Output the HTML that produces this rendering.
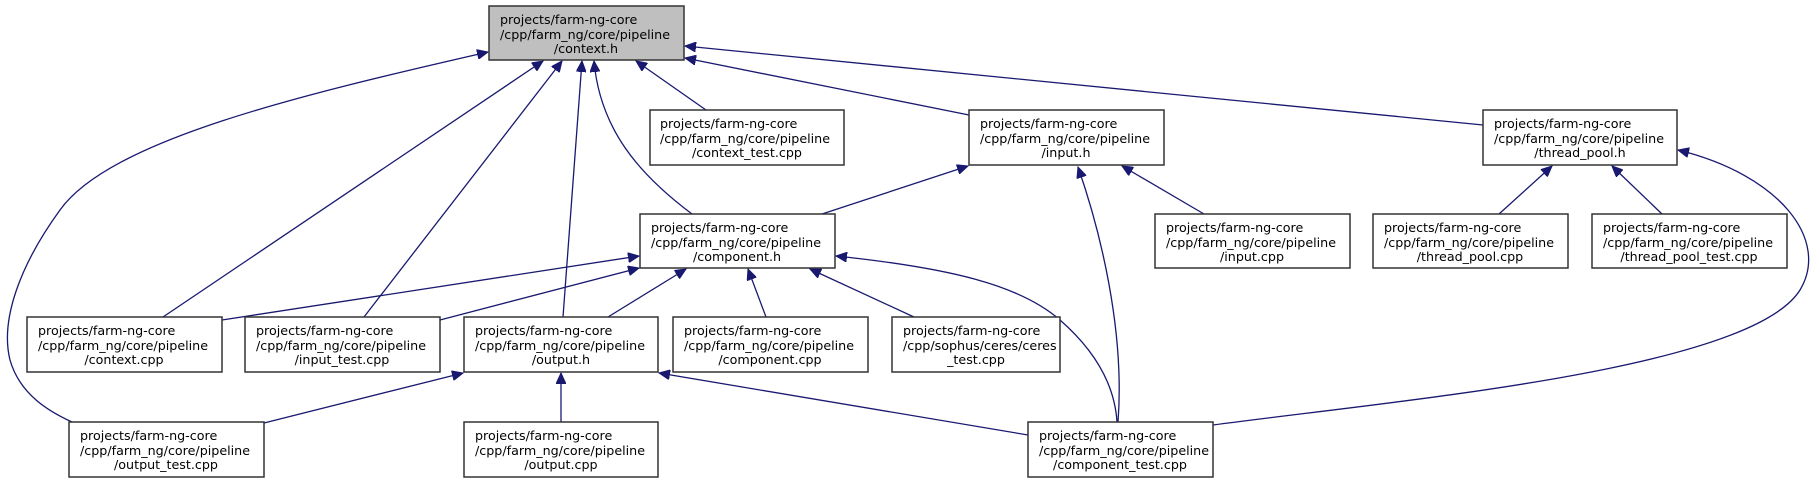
<!DOCTYPE html>
<html><head><meta charset="utf-8"><style>
html,body{margin:0;padding:0;background:#fff;}
svg{display:block;}
text{font-family:"DejaVu Sans","Liberation Sans",sans-serif;font-size:12.7px;fill:#000;}
.b{fill:#fff;stroke:#333;stroke-width:1.5;}
.e{fill:none;stroke:#191970;stroke-width:1.3;marker-start:url(#a);}
</style></head><body>
<svg width="1816" height="483" viewBox="0 0 1816 483" xmlns="http://www.w3.org/2000/svg">
<defs><marker id="a" markerUnits="userSpaceOnUse" markerWidth="12" markerHeight="10" refX="11" refY="5" orient="auto-start-reverse"><path d="M0,0 L11,5 L0,10 z" fill="#191970" stroke="#191970"/></marker></defs>

<path class="e" d="M636,61 L706,110"/>
<path class="e" d="M685,58 L969,115"/>
<path class="e" d="M685,46 L1483,125"/>
<path class="e" d="M594,61 C600,130 640,175 692,214"/>
<path class="e" d="M582,61 L563,317"/>
<path class="e" d="M562,61 L364,317"/>
<path class="e" d="M543,61 L163,317"/>
<path class="e" d="M488,52 C300,95 110,140 60,210 C20,265 0,320 10,360 C20,395 50,412 72,422"/>
<path class="e" d="M968,166 L822,214"/>
<path class="e" d="M1122,166 L1204,214"/>
<path class="e" d="M1078,167 C1100,230 1125,330 1118,422"/>
<path class="e" d="M1552,166 L1499,214"/>
<path class="e" d="M1612,166 L1662,214"/>
<path class="e" d="M1678,150 C1780,175 1830,240 1800,290 C1750,370 1400,400 1213,425"/>
<path class="e" d="M639,256 L222,320"/>
<path class="e" d="M639,268 L440,320"/>
<path class="e" d="M686,269 L608,317"/>
<path class="e" d="M748,269 L766,317"/>
<path class="e" d="M810,269 L914,317"/>
<path class="e" d="M836,256 C950,268 1020,285 1060,320 C1100,355 1115,390 1117,422"/>
<path class="e" d="M463,373 L264,423"/>
<path class="e" d="M561,373 L561,422"/>
<path class="e" d="M659,373 L1028,435"/>

<g>
<rect x="489" y="6" width="195" height="54" fill="#bfbfbf" stroke="#333" stroke-width="1.5"/>
<text x="500" y="24">projects/farm-ng-core</text><text x="500" y="39">/cpp/farm_ng/core/pipeline</text><text x="586" y="53" text-anchor="middle">/context.h</text>
</g>
<g><rect class="b" x="650" y="110" width="194" height="55"/><text x="660" y="128">projects/farm-ng-core</text><text x="660" y="143">/cpp/farm_ng/core/pipeline</text><text x="747" y="157" text-anchor="middle">/context_test.cpp</text></g>
<g><rect class="b" x="969" y="110" width="195" height="55"/><text x="980" y="128">projects/farm-ng-core</text><text x="980" y="143">/cpp/farm_ng/core/pipeline</text><text x="1066" y="157" text-anchor="middle">/input.h</text></g>
<g><rect class="b" x="1483" y="110" width="194" height="55"/><text x="1494" y="128">projects/farm-ng-core</text><text x="1494" y="143">/cpp/farm_ng/core/pipeline</text><text x="1580" y="157" text-anchor="middle">/thread_pool.h</text></g>
<g><rect class="b" x="640" y="214" width="195" height="54"/><text x="651" y="232">projects/farm-ng-core</text><text x="651" y="247">/cpp/farm_ng/core/pipeline</text><text x="737" y="261" text-anchor="middle">/component.h</text></g>
<g><rect class="b" x="1155" y="214" width="195" height="54"/><text x="1166" y="232">projects/farm-ng-core</text><text x="1166" y="247">/cpp/farm_ng/core/pipeline</text><text x="1252" y="261" text-anchor="middle">/input.cpp</text></g>
<g><rect class="b" x="1373" y="214" width="195" height="54"/><text x="1384" y="232">projects/farm-ng-core</text><text x="1384" y="247">/cpp/farm_ng/core/pipeline</text><text x="1470" y="261" text-anchor="middle">/thread_pool.cpp</text></g>
<g><rect class="b" x="1592" y="214" width="195" height="54"/><text x="1603" y="232">projects/farm-ng-core</text><text x="1603" y="247">/cpp/farm_ng/core/pipeline</text><text x="1689" y="261" text-anchor="middle">/thread_pool_test.cpp</text></g>
<g><rect class="b" x="27" y="317" width="195" height="55"/><text x="38" y="335">projects/farm-ng-core</text><text x="38" y="350">/cpp/farm_ng/core/pipeline</text><text x="124" y="364" text-anchor="middle">/context.cpp</text></g>
<g><rect class="b" x="245" y="317" width="195" height="55"/><text x="256" y="335">projects/farm-ng-core</text><text x="256" y="350">/cpp/farm_ng/core/pipeline</text><text x="342" y="364" text-anchor="middle">/input_test.cpp</text></g>
<g><rect class="b" x="464" y="317" width="194" height="55"/><text x="475" y="335">projects/farm-ng-core</text><text x="475" y="350">/cpp/farm_ng/core/pipeline</text><text x="561" y="364" text-anchor="middle">/output.h</text></g>
<g><rect class="b" x="673" y="317" width="195" height="55"/><text x="684" y="335">projects/farm-ng-core</text><text x="684" y="350">/cpp/farm_ng/core/pipeline</text><text x="770" y="364" text-anchor="middle">/component.cpp</text></g>
<g><rect class="b" x="892" y="317" width="168" height="55"/><text x="903" y="335">projects/farm-ng-core</text><text x="903" y="350">/cpp/sophus/ceres/ceres</text><text x="976" y="364" text-anchor="middle">_test.cpp</text></g>
<g><rect class="b" x="69" y="422" width="195" height="55"/><text x="80" y="440">projects/farm-ng-core</text><text x="80" y="455">/cpp/farm_ng/core/pipeline</text><text x="166" y="469" text-anchor="middle">/output_test.cpp</text></g>
<g><rect class="b" x="464" y="422" width="194" height="55"/><text x="475" y="440">projects/farm-ng-core</text><text x="475" y="455">/cpp/farm_ng/core/pipeline</text><text x="561" y="469" text-anchor="middle">/output.cpp</text></g>
<g><rect class="b" x="1028" y="422" width="185" height="55"/><text x="1039" y="440">projects/farm-ng-core</text><text x="1039" y="455">/cpp/farm_ng/core/pipeline</text><text x="1120" y="469" text-anchor="middle">/component_test.cpp</text></g>
</svg>
</body></html>
